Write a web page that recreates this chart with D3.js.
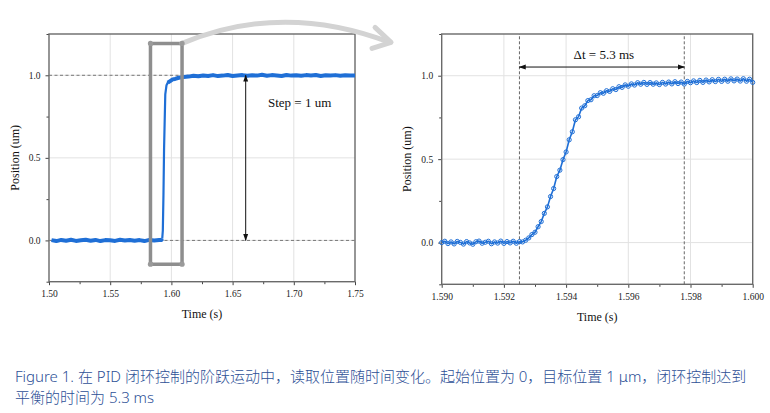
<!DOCTYPE html>
<html><head><meta charset="utf-8">
<script src="https://cdn.jsdelivr.net/npm/d3@7"></script>
<style>
html,body{margin:0;padding:0;background:#fff;}
svg{display:block;}
</style></head>
<body>
<svg id="c" width="770" height="413"></svg>
<script>
// ---------- data ----------
const leftTime = [
  1.502,1.506,1.510,1.514,1.518,1.522,1.526,1.530,1.534,1.538,1.542,1.546,1.550,1.554,1.558,1.562,1.566,1.570,1.574,1.578,1.582,1.586,1.590,
  1.592,1.5925,1.593,1.5935,1.594,1.595,1.596,1.597,1.599,1.601,1.603,1.606,1.610,
  1.614,1.618,1.622,1.626,1.630,1.634,1.638,1.642,1.646,1.650,1.654,1.658,1.662,1.666,1.670,1.674,1.678,1.682,1.686,1.690,1.694,1.698,1.702,1.706,1.710,1.714,1.718,1.722,1.726,1.730,1.734,1.738,1.742,1.746,1.750
];
const leftPos = [
  0.002,-0.004,0.003,-0.002,0.004,-0.003,0.001,0.004,-0.002,0.003,-0.004,0.002,0.001,-0.003,0.004,-0.001,0.003,-0.002,0.002,-0.004,0.003,0.000,0.002,
  0.003,0.01,0.06,0.27,0.55,0.885,0.94,0.955,0.965,0.975,0.978,0.985,0.99,
  0.992,0.997,0.994,0.999,0.996,1.001,0.995,0.998,1.002,0.996,0.999,1.001,0.997,1.000,0.998,1.003,0.997,1.001,0.999,0.996,1.002,0.998,1.000,0.997,1.001,0.999,1.002,0.996,1.000,0.998,1.001,0.997,1.000,0.999,0.998
];
// right: samples every 0.1 ms from 1.5900 s
const rightStart = 1.5900, rightStep = 0.0001;
const rightPos = [
  0.000,0.008,-0.006,0.004,-0.008,0.007,0.001,-0.009,0.006,-0.002,
  -0.010,0.005,0.009,-0.004,0.002,0.008,-0.007,0.004,-0.003,0.009,
  -0.005,0.006,-0.002,0.008,-0.004,0.006,0.004,0.014,0.028,0.048,
  0.062,0.095,0.126,0.175,0.214,0.276,0.324,0.396,0.434,0.497,
  0.543,0.616,0.664,0.736,0.754,0.806,0.820,0.851,0.856,0.880,
  0.881,0.898,0.895,0.910,0.906,0.922,0.917,0.934,0.930,0.945,
  0.937,0.951,0.944,0.958,0.949,0.960,0.948,0.959,0.949,0.957,
  0.947,0.960,0.950,0.962,0.951,0.964,0.953,0.962,0.950,0.966,
  0.958,0.969,0.959,0.972,0.960,0.974,0.963,0.976,0.965,0.978,
  0.966,0.979,0.967,0.981,0.969,0.980,0.968,0.982,0.967,0.979,
  0.960
];
const leftXTicks = [1.50,1.55,1.60,1.65,1.70,1.75];
const rightXTicks = [1.590,1.592,1.594,1.596,1.598,1.600];
const yTicks = [0.0,0.5,1.0];
const stepLabel = "Step = 1 um";
const dtLabel = "\u0394t = 5.3 ms";
const dtStart = 1.5925, dtEnd = 1.5978;
const stepAt = 1.6607;
const zoomBox = {t0:1.5829, t1:1.6087, y0:-0.144, y1:1.193};
const captionLines = [
  "Figure 1. 在 PID 闭环控制的阶跃运动中，读取位置随时间变化。起始位置为 0，目标位置 1 μm，闭环控制达到",
  "平衡的时间为 5.3 ms"
];

const blue = "#1f6fd6";
const svg = d3.select("#c");
const serif = "'Liberation Serif','Times New Roman',serif";

svg.append("defs").html(`
<marker id="ah" viewBox="0 0 10 10" refX="9" refY="5" markerWidth="7" markerHeight="7" orient="auto-start-reverse" markerUnits="userSpaceOnUse">
<path d="M0,1.5 L10,5 L0,8.5 Z" fill="#111"/></marker>`);

function panel(cfg){
  const x = d3.scaleLinear().domain(cfg.xd).range(cfg.xr);
  const y = d3.scaleLinear().domain([-0.25,1.25]).range(cfg.yr);
  const g = svg.append("g");
  g.selectAll(".gx").data(cfg.xt.slice(1,-1)).join("line")
    .attr("x1",d=>x(d)).attr("x2",d=>x(d)).attr("y1",cfg.yr[0]).attr("y2",cfg.yr[1])
    .attr("stroke","#e2e2e2").attr("stroke-width",1);
  g.selectAll(".gy").data(yTicks).join("line")
    .attr("y1",d=>y(d)).attr("y2",d=>y(d)).attr("x1",cfg.xr[0]).attr("x2",cfg.xr[1])
    .attr("stroke","#e2e2e2").attr("stroke-width",1);
  const minorX = [];
  for(let i=0;i<cfg.xt.length-1;i++) minorX.push((cfg.xt[i]+cfg.xt[i+1])/2);
  const xa = d3.axisBottom(x).tickValues(cfg.xt).tickFormat(d3.format(cfg.fmt)).tickSize(3.5).tickPadding(5);
  const gx = g.append("g").attr("transform",`translate(0,${cfg.yr[0]})`).call(xa);
  const gxm = g.append("g").attr("transform",`translate(0,${cfg.yr[0]})`).call(d3.axisBottom(x).tickValues(minorX).tickSize(2.5).tickFormat(""));
  const ya = d3.axisLeft(y).tickValues(yTicks).tickFormat(d3.format(".1f")).tickSize(3.5).tickPadding(5);
  const gy = g.append("g").attr("transform",`translate(${cfg.xr[0]},0)`).call(ya);
  const gym = g.append("g").attr("transform",`translate(${cfg.xr[0]},0)`).call(d3.axisLeft(y).tickValues([-0.25,0.25,0.75,1.25]).tickSize(2.5).tickFormat(""));
  [gx,gxm,gy,gym].forEach(a=>{
    a.select(".domain").remove();
    a.selectAll("line").attr("stroke","#444").attr("stroke-width",1);
    a.selectAll("text").attr("font-family",serif).attr("font-size","9.5px").attr("fill","#222");
  });
  g.append("rect").attr("x",cfg.xr[0]).attr("y",cfg.yr[1]).attr("width",cfg.xr[1]-cfg.xr[0]).attr("height",cfg.yr[0]-cfg.yr[1])
    .attr("fill","none").attr("stroke","#6a6a6a").attr("stroke-width",1.4);
  g.append("text").attr("x",(cfg.xr[0]+cfg.xr[1])/2).attr("y",cfg.titleY).attr("text-anchor","middle")
    .attr("font-family",serif).attr("font-size","12px").attr("fill","#111").text("Time (s)");
  g.append("text").attr("transform",`translate(${cfg.ytitleX},${(cfg.yr[0]+cfg.yr[1])/2}) rotate(-90)`).attr("text-anchor","middle")
    .attr("dominant-baseline","central")
    .attr("font-family",serif).attr("font-size","12px").attr("fill","#111").text("Position (um)");
  return {x,y,g};
}

// ---------- left panel ----------
const L = panel({xd:[1.50,1.75], xr:[49,355], yr:[281.7,34], xt:leftXTicks, fmt:".2f", titleY:318, ytitleX:15});
L.g.selectAll(".ref").data([0,1]).join("line")
  .attr("x1",L.x(1.50)).attr("x2",L.x(1.75)).attr("y1",d=>L.y(d)).attr("y2",d=>L.y(d))
  .attr("stroke","#777").attr("stroke-width",1).attr("stroke-dasharray","3,2.5");
const leftData = leftTime.map((t,i)=>[t,leftPos[i]]);
const lline = d3.line().x(d=>L.x(d[0])).y(d=>L.y(d[1]));
// thick noisy band on the flat parts, thinner on the rise
L.g.append("path").datum(leftData.filter(d=>d[0]<=1.5925))
  .attr("d",lline).attr("fill","none").attr("stroke",blue).attr("stroke-width",4).attr("stroke-linejoin","round");
L.g.append("path").datum(leftData.filter(d=>d[0]>=1.5925))
  .attr("d",lline).attr("fill","none").attr("stroke",blue).attr("stroke-width",2.2).attr("stroke-linejoin","round");
L.g.append("path").datum(leftData.filter(d=>d[0]>=1.597))
  .attr("d",lline).attr("fill","none").attr("stroke",blue).attr("stroke-width",4).attr("stroke-linejoin","round");
// step arrow
L.g.append("line").attr("x1",L.x(stepAt)).attr("x2",L.x(stepAt)).attr("y1",L.y(0.0)).attr("y2",L.y(1.0))
  .attr("stroke","#111").attr("stroke-width",1).attr("marker-start","url(#ah)").attr("marker-end","url(#ah)");
L.g.append("text").attr("x",268).attr("y",L.y(0.81)).attr("font-family",serif).attr("font-size","13px").attr("fill","#111").text(stepLabel);

// ---------- right panel ----------
const R = panel({xd:[1.590,1.600], xr:[441.7,752.7], yr:[284.3,34], xt:rightXTicks, fmt:".3f", titleY:320.5, ytitleX:407});
const rightData = rightPos.map((v,i)=>[rightStart+i*rightStep,v]);
R.g.selectAll(".vd").data([dtStart,dtEnd]).join("line")
  .attr("x1",d=>R.x(d)).attr("x2",d=>R.x(d)).attr("y1",R.y(-0.25)).attr("y2",R.y(1.25))
  .attr("stroke","#666").attr("stroke-width",1).attr("stroke-dasharray","3,2");
R.g.append("path").datum(rightData)
  .attr("d",d3.line().x(d=>R.x(d[0])).y(d=>R.y(d[1])))
  .attr("fill","none").attr("stroke",blue).attr("stroke-width",1.6).attr("stroke-linejoin","round");
R.g.selectAll(".pt").data(rightData).join("circle")
  .attr("cx",d=>R.x(d[0])).attr("cy",d=>R.y(d[1])).attr("r",2.1)
  .attr("fill","none").attr("stroke",blue).attr("stroke-width",1);
R.g.append("line").attr("x1",R.x(dtStart)).attr("x2",R.x(dtEnd)).attr("y1",R.y(1.052)).attr("y2",R.y(1.052))
  .attr("stroke","#111").attr("stroke-width",1).attr("marker-start","url(#ah)").attr("marker-end","url(#ah)");
R.g.append("text").attr("x",R.x((dtStart+dtEnd)/2)+2).attr("y",R.y(1.052)-8).attr("text-anchor","middle")
  .attr("font-family",serif).attr("font-size","13px").attr("fill","#111").text(dtLabel);

// ---------- zoom box & curved arrow ----------
svg.append("rect")
  .attr("x",L.x(zoomBox.t0)).attr("y",L.y(zoomBox.y1))
  .attr("width",L.x(zoomBox.t1)-L.x(zoomBox.t0)).attr("height",L.y(zoomBox.y0)-L.y(zoomBox.y1))
  .attr("rx",2.5).attr("fill","none").attr("stroke","#8e8e8e").attr("stroke-width",3.5);
const ax0 = L.x(zoomBox.t1), ay0 = L.y(zoomBox.y1);
svg.append("path")
  .attr("d",`M${ax0},${ay0} Q${ax0+100},${ay0-42} ${ax0+208},${ay0-1}`)
  .attr("fill","none").attr("stroke","#d3d3d3").attr("stroke-width",5).attr("stroke-linecap","round");
svg.append("path")
  .attr("d",`M${ax0+193},${ay0-16} L${ax0+209},${ay0-1} L${ax0+190},${ay0+5}`)
  .attr("fill","none").attr("stroke","#d3d3d3").attr("stroke-width",5).attr("stroke-linecap","round").attr("stroke-linejoin","round");
svg.selectAll(".cd").data([[L.x(zoomBox.t0),L.y(zoomBox.y1)],[ax0,ay0],[L.x(zoomBox.t0),L.y(zoomBox.y0)],[ax0,L.y(zoomBox.y0)]]).join("circle")
  .attr("cx",d=>d[0]).attr("cy",d=>d[1]).attr("r",2.6).attr("fill","#9a9a9a");

// ---------- caption ----------
svg.selectAll(".cap").data(captionLines).join("text")
  .attr("x",15).attr("y",(d,i)=>382+i*20.5)
  .attr("font-family","'Noto Sans','Noto Sans CJK SC',sans-serif").attr("font-weight",300).attr("font-size","15px").attr("fill","#2d4f96")
  .text(d=>d);
</script>
</body></html>
